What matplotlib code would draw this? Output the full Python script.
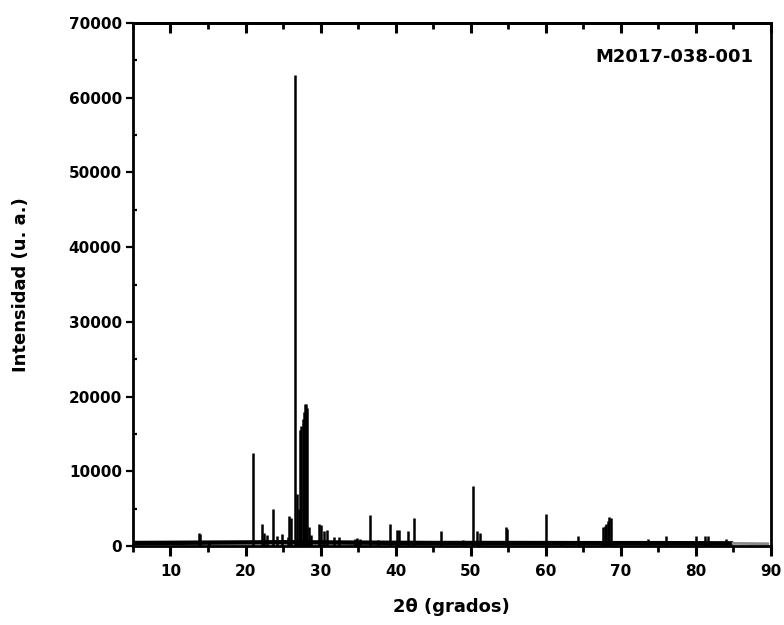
import matplotlib

matplotlib.use("Agg")
import matplotlib.pyplot as plt  # noqa: E402
from matplotlib.ticker import MultipleLocator  # noqa: E402

# peak positions (2theta, deg) and heights (counts)
peak_pos = [13.8, 14.0, 15.1, 21.05, 22.2, 22.5, 22.9, 23.7, 24.2, 24.8,
            25.6, 25.8, 26.0, 26.6, 26.9, 27.1, 27.3, 27.45, 27.6, 27.75,
            27.9, 28.05, 28.2, 28.4, 28.7, 29.8, 30.1, 30.5, 30.9, 31.8,
            32.4, 34.6, 34.9, 35.3, 36.6, 37.7, 39.3, 40.2, 40.5, 41.6,
            42.4, 46.0, 49.0, 50.3, 50.9, 51.2, 54.7, 54.9, 60.1, 62.1,
            64.3, 67.7, 67.9, 68.1, 68.3, 68.5, 68.7, 73.7, 76.0, 80.0,
            81.3, 81.6, 84.0]
peak_int = [1700, 1600, 700, 12400, 2900, 1800, 1500, 4900, 1400, 1600,
            1200, 4000, 3800, 63000, 7000, 5000, 15500, 16000, 17000, 18000,
            19000, 19000, 18500, 2500, 1500, 2900, 2800, 2000, 2100, 1200,
            1200, 1000, 1100, 1000, 4100, 800, 2900, 2100, 2100, 2000,
            3700, 2000, 800, 8000, 2000, 1800, 2500, 2300, 4300, 700,
            1300, 2500, 2700, 3000, 3400, 3900, 3800, 1000, 1400, 1300,
            1400, 1300, 900]

# background level
base_x = [5, 15, 25, 35, 45, 55, 65, 75, 85]
base_y = [400, 450, 500, 450, 400, 400, 380, 380, 350]
tail_x = [85, 89.6]
tail_y = [350, 300]

sample = "M2017-038-001"

plt.rcParams["font.family"] = "DejaVu Sans"
plt.rcParams["font.weight"] = "bold"

fig = plt.figure(figsize=(7.84, 6.25), dpi=100)
ax = fig.add_axes([0.1696, 0.1264, 0.8134, 0.8368])

ax.plot(base_x, base_y, color="black", lw=3.2, solid_capstyle="butt")
ax.plot(tail_x, tail_y, color="#8a8a8a", lw=2.0)
ax.vlines(peak_pos, 0, peak_int, color="black", lw=1.8)

ax.set_xlim(5, 90)
ax.set_ylim(0, 70000)
ax.xaxis.set_major_locator(MultipleLocator(10))
ax.xaxis.set_minor_locator(MultipleLocator(5))
ax.yaxis.set_major_locator(MultipleLocator(10000))
ax.yaxis.set_minor_locator(MultipleLocator(5000))

for s in ax.spines.values():
    s.set_linewidth(2.0)

ax.tick_params(axis="x", which="major", direction="out", length=7, width=2.2,
               labelsize=11, pad=6)
ax.tick_params(axis="x", which="minor", direction="out", length=4, width=2.0)
ax.tick_params(axis="y", which="major", direction="out", length=5, width=1.6,
               labelsize=11, pad=3)
ax.tick_params(axis="y", which="minor", direction="in", length=3, width=1.6)

top = ax.secondary_xaxis("top")
top.xaxis.set_major_locator(MultipleLocator(10))
top.xaxis.set_minor_locator(MultipleLocator(5))
top.tick_params(which="major", direction="in", length=7, width=2.2, labeltop=False)
top.tick_params(which="minor", direction="in", length=4, width=2.0)
top.spines["top"].set_linewidth(2.0)

ax.set_xlabel("2θ (grados)", fontsize=13, fontweight="bold", labelpad=14)
ax.set_ylabel("Intensidad (u. a.)", fontsize=13, fontweight="bold", labelpad=28)
ax.text(0.973, 0.935, sample, transform=ax.transAxes, ha="right", va="center",
        fontsize=13, fontweight="bold")

fig.savefig("out.png", dpi=100)
